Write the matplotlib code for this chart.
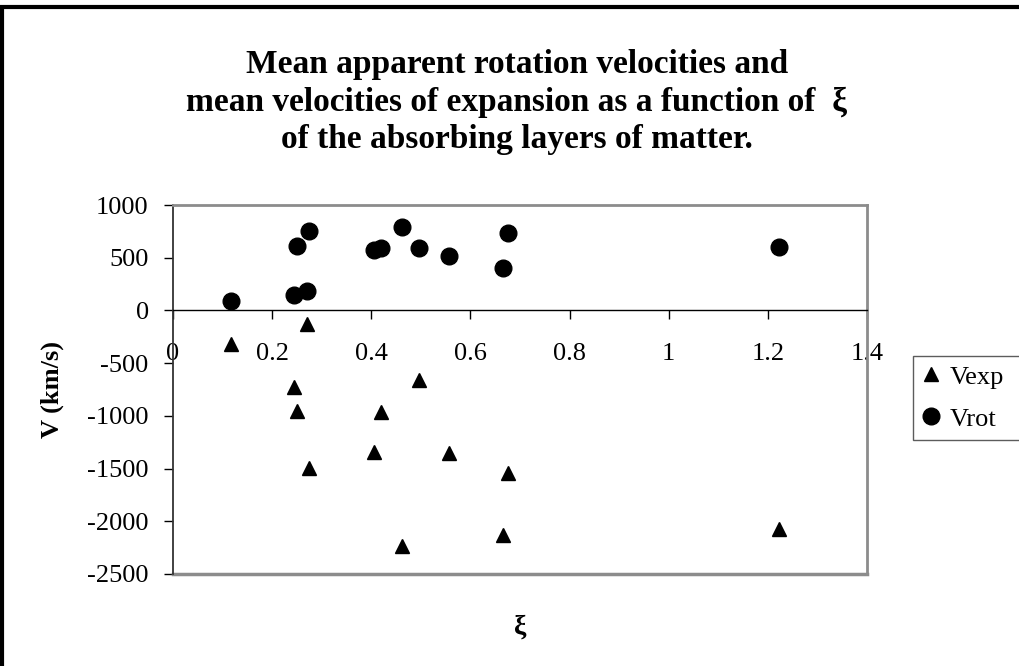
import matplotlib

matplotlib.use("Agg")

import matplotlib.pyplot as plt
from matplotlib.lines import Line2D
from matplotlib.patches import Rectangle

# Mean velocities of the absorbing layers versus xi
xi = [0.117, 0.245, 0.251, 0.270, 0.275, 0.405, 0.420, 0.461, 0.496, 0.556, 0.665, 0.675, 1.223]
v_rot = [90, 150, 610, 184, 755, 571, 593, 793, 593, 514, 403, 734, 600]
v_exp = [-317, -730, -952, -127, -1497, -1345, -968, -2238, -660, -1352, -2127, -1544, -2074]

x_ticks = [0, 0.2, 0.4, 0.6, 0.8, 1.0, 1.2, 1.4]
x_tick_labels = ["0", "0.2", "0.4", "0.6", "0.8", "1", "1.2", "1.4"]
y_ticks = [-2500, -2000, -1500, -1000, -500, 0, 500, 1000]

TITLE = ("Mean apparent rotation velocities and\n"
         "mean velocities of expansion as a function of  \u03be\n"
         "of the absorbing layers of matter.")

W, H = 1019, 666
plt.rcParams["font.family"] = ["Liberation Serif", "DejaVu Serif"]
plt.rcParams["axes.unicode_minus"] = False

fig = plt.figure(figsize=(W / 100, H / 100), dpi=100)
fig.patch.set_facecolor("white")


def fx(px):
    return px / W


def fy(py):
    return 1 - py / H


# plot area in pixel corners: (173, 205) .. (867, 574)
ax = fig.add_axes([fx(173), fy(574), fx(867) - fx(173), fy(205) - fy(574)])
ax.set_xlim(0, 1.4)
ax.set_ylim(-2500, 1000)

ax.plot(xi, v_exp, linestyle="", marker="^", markersize=10.5, color="black", label="Vexp")
ax.plot(xi, v_rot, linestyle="", marker="o", markersize=12, color="black", label="Vrot")

# x axis crosses at V = 0
ax.spines["bottom"].set_position(("data", 0))
ax.spines["bottom"].set_color("black")
ax.spines["bottom"].set_linewidth(1.0)
ax.spines["left"].set_color("#333333")
ax.spines["left"].set_linewidth(1.3)
for side in ("top", "right"):
    ax.spines[side].set_color("#8c8c8c")
    ax.spines[side].set_linewidth(2.0)
ax.add_line(Line2D([0, 1], [0, 0], transform=ax.transAxes, color="#8c8c8c",
                   linewidth=2.5, clip_on=False))

ax.set_xticks(x_ticks)
ax.set_xticklabels(x_tick_labels)
ax.set_yticks(y_ticks)
ax.tick_params(axis="x", direction="out", length=6.5, width=1.0, pad=17,
               labelsize=19, color="black")
ax.tick_params(axis="y", direction="out", length=6.5, width=1.0, pad=11,
               labelsize=19, color="black")

fig.text(fx(517), fy(102), TITLE, ha="center", va="center", fontsize=24,
         fontweight="bold", linespacing=1.28)
fig.text(fx(52), fy(390), "V (km/s)", rotation=90, ha="center", va="center",
         fontsize=19, fontweight="bold")
fig.text(fx(520), fy(627), "\u03be", ha="center", va="center",
         fontsize=20, fontweight="bold")

handles, labels = ax.get_legend_handles_labels()
leg = fig.legend(handles, labels, loc="upper left", mode="expand",
                 bbox_to_anchor=(fx(913), fy(443), fx(1030) - fx(913), fy(356) - fy(443)),
                 fontsize=19, frameon=True, fancybox=False, handlelength=0.7,
                 handletextpad=0.35, borderpad=0.35, labelspacing=0.7,
                 borderaxespad=0)
leg.get_frame().set_edgecolor("#333333")
leg.get_frame().set_linewidth(1.0)

# thick chart-area frame (only the left and top edges fall inside the canvas)
fig.add_artist(Rectangle((fx(2), fy(H + 20)), fx(W + 40), fy(7) - fy(H + 20),
                         transform=fig.transFigure, fill=False,
                         edgecolor="black", linewidth=3.0))

fig.savefig("out.png", dpi=100)
